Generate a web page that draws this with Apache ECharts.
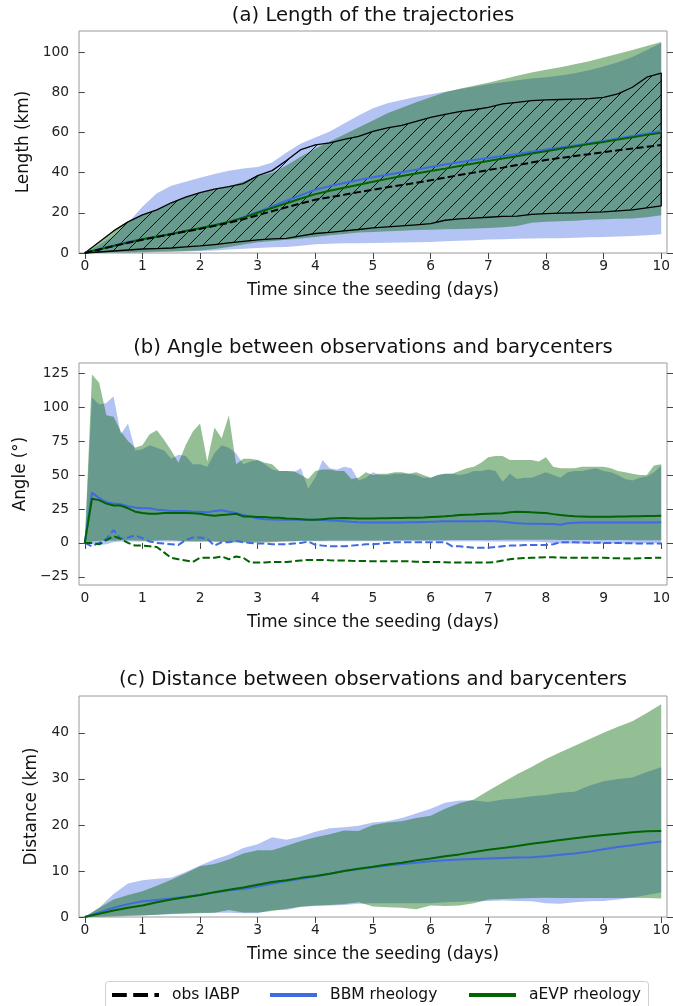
<!DOCTYPE html>
<html>
<head>
<meta charset="utf-8">
<script src="https://cdn.jsdelivr.net/npm/echarts@6/dist/echarts.min.js"></script>
<style>
  html, body { margin: 0; padding: 0; background: #fff; }
  #chart { width: 673px; height: 1006px; }
</style>
</head>
<body>
<div id="chart"></div>
<script>
// ---- time axes (days since seeding) ----
const dayA = [0,0.25,0.5,0.75,1,1.25,1.5,1.75,2,2.25,2.5,2.75,3,3.25,3.5,3.75,4,4.25,4.5,4.75,5,
              5.25,5.5,5.75,6,6.25,6.5,6.75,7,7.25,7.5,7.75,8,8.25,8.5,8.75,9,9.25,9.5,9.75,10];
const dayB = [0,0.125,0.25,0.375,0.5,0.625,0.75,0.875, 1,1.125,1.25,1.375,1.5,1.625,1.75,1.875,
              2,2.125,2.25,2.375,2.5,2.625,2.75,2.875, 3,3.125,3.25,3.375,3.5,3.625,3.75,3.875,
              4,4.125,4.25,4.375,4.5,4.625,4.75,4.875, 5,5.125,5.25,5.375,5.5,5.625,5.75,5.875,
              6,6.125,6.25,6.375,6.5,6.625,6.75,6.875, 7,7.125,7.25,7.375,7.5,7.625,7.75,7.875,
              8,8.125,8.25,8.375,8.5,8.625,8.75,8.875, 9,9.125,9.25,9.375,9.5,9.625,9.75,9.875, 10];

// ---- tick labels ----
const xTicks  = [0,1,2,3,4,5,6,7,8,9,10];
const yTicksA = [0,20,40,60,80,100];
const yTicksB = [-25,0,25,50,75,100,125];
const yTicksC = [0,10,20,30,40];

// ---- (a) length of the trajectories (km) ----
const obsMeanA  = [0,1.7,3.5,5.1,6.6,8,9.3,10.7,12,13.5,15,16.8,18.8,20.8,22.8,24.7,26.5,27.8,29,30.3,31.5,
                   32.7,33.8,35,36.2,37.5,38.8,40,41.3,42.5,43.8,45,46.3,47.3,48.3,49.2,50.2,51.1,52,52.9,53.7];
const obsLoA    = [0,0.5,1,1.5,2,2.2,2.5,3,3.5,4.2,5,5.8,6.5,7,7.3,8.5,9.7,10.3,11,11.7,12.5,
                   13,13.5,14,14.6,16.3,17,17.4,17.8,18.2,18.4,19.2,19.6,19.8,20,20.2,20.5,21,21.5,22.5,23.5];
const obsHiA    = [0,5.5,11,15.5,19,21.5,25,27.8,30,31.8,33,34.5,38.5,41,46,51.5,53.8,54.8,56.5,58,60.5,
                   62.3,63.5,65.5,67.5,69,70.4,71.3,72.5,74.2,75,75.8,76.2,76.4,76.6,76.8,77.5,79.2,82.5,87.5,89.5];
const bbmMeanA  = [0,2,3.8,5.5,7,8.2,9.5,10.9,12.3,13.8,15.5,17.8,20.5,23.2,26,28.8,31.5,33.3,34.8,36.3,37.7,
                   39,40.2,41.5,42.8,44,45.2,46.3,47.3,48.3,49.3,50.4,51.5,52.5,53.5,54.6,55.8,57,58.2,59.4,60.7];
const bbmLoA    = [0,0.1,0.2,0.3,0.4,0.5,0.6,0.8,1,1.3,1.7,2.1,2.5,2.8,3,3.6,4.3,4.6,4.8,4.9,5,
                   5.1,5.2,5.3,5.5,5.8,6.1,6.4,6.7,6.9,7.1,7.2,7.3,7.4,7.6,7.8,8,8.2,8.5,8.8,9.3];
const bbmHiA    = [0,4,8.5,15,23,29.8,33.5,35.5,37.5,39.3,41,42,42.8,45,50,54.5,57.5,60.5,64.5,68.5,72,
                   74.5,76.2,77.8,79,80.3,81.5,82.8,84,85,86,86.8,87.5,88.3,89.5,91,92.8,95,97.5,101,104.5];
const aevpMeanA = [0,1.8,3.5,5.2,6.8,8.1,9.5,10.9,12.3,13.8,15.5,17.6,20,22.4,24.8,27.1,29.3,31,32.5,34,35.5,
                   36.9,38.3,39.6,40.8,42,43.3,44.5,45.8,47,48.2,49.5,50.7,51.9,53,54.2,55.3,56.5,57.6,58.8,59.9];
const aevpLoA   = [0,0.1,0.2,0.3,0.4,0.6,0.8,1,1.3,2,3,4.2,5.3,6,6.6,7.2,8,8.8,9.5,10.2,10.5,
                   10.8,11.1,11.4,11.6,11.8,12,12.2,12.5,12.8,13.5,15,15.5,15.8,16,16.5,16.8,17,17.2,17.8,18.8];
const aevpHiA   = [0,5.5,11,15.5,19,21.5,25,27.8,30,31.8,33.2,35.5,38.3,40,43.5,48,52,55.5,59,62.5,66,
                   69.5,72.3,75,77.5,80,81.8,83.3,84.8,86.5,88.2,89.8,91.2,92.5,94,95.5,97.3,99.2,101,103,105];

// ---- (b) angle between observations and barycenters (deg) ----
const bbmHiB = [0,107,102,103,108,80,88,68, 69,72,70,68,62,65,64,58, 58,56,66,72,70,66,58,60,
                61,58,54,53,53,52,55,40, 48,61,55,54,56,55,46,48, 52,50,50,51,51,51,50,48,
                48,50,51,51,50,51,53,53, 54,53,45,51,47,48,48,50, 52,50,48,52,53,53,54,55,
                53,52,50,47,46,48,49,52, 57];
const bbmLoB = [0,-1,-1.5,-1,0.5,1,1,1, 1,1,1,1,1,1,1,1, 1,1,0.8,0.8,0.8,0.8,0.8,0.8,
                1,1,1,1.2,1.2,1.2,1.2,1.2, 1.2,1.2,1.2,1.2,1.2,1.2,1.2,1.2, 1.2,1.2,1.2,1.2,1.2,1.2,1.2,1.2,
                1.2,1.2,1.2,1.2,1.2,1.2,1.2,1.2, 1,1,1,1,1,1,1,0.8, 0.5,0,-0.5,-0.5,-0.5,-0.5,-0.5,-0.5,
                -0.5,-0.5,-0.5,-0.5,-0.5,-0.5,-0.3,-0.3, -0.3];
const bbmMeanB = [0,37,33,30,29,28.5,27,26, 25.5,25.5,24.5,24,23.5,23.5,23.5,23, 23,22.5,23.5,24,23,22,20.5,19.5,
                  18,17.5,17.2,17,17,17,17,17, 17,16.8,16.5,16.3,16,15.5,15.2,15, 15,15,15,15,15,15.2,15.3,15.4,
                  15.5,15.7,16,16,16,16,16,16, 16.2,16,15.5,15,14.5,14.3,14.2,14.1, 14,14,13.3,14.5,14.8,15,15,15,
                  15,15,15,15,15,15,15,15, 15.2];
const bbmDevB = [0,-2.5,0,3,9.5,3,4,5.5, 3.5,1,0,-0.5,-1,-1.5,2,4, 4,3,-2,0.5,0.5,1.5,0.5,0,
                 -0.5,-0.5,-1,-1,-1,-0.5,0,1, -1.5,-2,-2.5,-2.5,-2.5,-2,-1.5,-1, -1,-0.5,0,0.5,0.5,0.5,0.5,0.5,
                 0.5,0.5,0.5,-2.5,-2.5,-3,-3.5,-3.5, -3.5,-3,-2.5,-2,-2,-1.5,-1.5,-1.5, -1.5,-1,0.5,0.5,0.5,0.3,0.2,0.2,
                 0,0,0,-0.2,-0.3,-0.4,-0.5,-0.5, -0.5];
const aevpHiB = [0,124,118,94,93,82,75,70, 72,80,83,76,68,59,72,82, 88,60,85,77,94,58,62,62,
                 61,59,58,53,53,53,50,47, 53,54,54,53,53,47,48,52, 50,51,51,52,52,51,52,50,
                 48,50,51,51,53,55,56,59, 63,64,64,61,61,61,61,60, 63,56,55,55,55,56,56,56,
                 56,55,53,52,51,50,50,57, 58];
const aevpLoB = [0,1,1.5,1.5,1.5,2,2,1.8, 1.5,1.5,1.8,2,2,1.5,1.2,1, 1,1.2,1,0.8,0.5,0.3,0.3,0.2,
                 0.2,0.3,0.5,0.8,1,1.2,1.5,1.5, 1.5,1.6,1.7,1.8,1.8,1.8,1.8,1.7, 1.7,1.7,1.8,1.8,1.9,1.9,2,2,
                 2,2,2,2.1,2.1,2.2,2.2,2.2, 2.2,2.2,2.3,2.3,2.3,2.3,2.3,2.3, 2.3,2.3,2.2,2.2,2.2,2.2,2.1,2.1,
                 2.1,2.1,2.1,2.1,2,2,2,2, 2];
const aevpMeanB = [0,32.5,31.5,29,27.5,27.5,25.5,23, 22,21.5,21.5,22,22,22,22,21.8, 21.5,20.5,20,20.5,21,21.5,19.5,19.5,
                   19,19,18.5,18.5,18,17.8,17.5,17, 17,17.5,18,18.2,18.3,18.2,18,18, 18,18.1,18.2,18.3,18.4,18.5,18.6,18.7,
                   19,19.3,19.6,20,20.5,20.8,21,21.3, 21.5,21.7,21.8,22.5,23,22.8,22.5,22.3, 22,21.2,20.5,20,19.7,19.5,19.3,19.2,
                   19.2,19.3,19.4,19.5,19.6,19.7,19.8,19.9, 20];
const aevpDevB = [0,0,-1,2,5,3,0,-2, -2,-2.5,-3,-7,-11,-12,-13,-14, -11,-11,-11,-10,-12,-10,-11,-14.5,
                  -14.5,-14.5,-14,-14,-14,-13.5,-13,-12.5, -12.5,-12.5,-12.8,-13,-13,-13.2,-13.3,-13.4,
                  -13.5,-13.5,-13.5,-13.5,-13.5,-13.6,-13.8,-14, -14,-14,-14.2,-14.4,-14.5,-14.5,-14.5,-14.5,
                  -14.5,-14,-13,-12,-11.5,-11.2,-11,-10.8, -10.5,-10.6,-10.8,-11,-11,-11,-11,-11,
                  -11,-11.2,-11.3,-11.5,-11.5,-11.3,-11.1,-11, -11];

// ---- (c) distance between observations and barycenters (km) ----
const bbmMeanC  = [0,1,2,2.8,3.4,3.7,4,4.4,4.8,5.3,5.8,6.1,6.6,7.2,7.8,8.3,8.8,9.4,10,10.4,10.8,
                   11.2,11.5,11.8,12.1,12.3,12.5,12.6,12.7,12.8,12.9,13,13.2,13.5,13.8,14.2,14.7,15.2,15.6,16,16.4];
const bbmLoC    = [0,0.1,0.2,0.3,0.4,0.5,0.6,0.7,0.9,0.9,0.9,0.8,0.8,1.5,1.5,2.2,2.4,2.5,2.6,2.9,3,
                   3,3,3,3,3.2,3.3,3.4,3.5,3.6,3.5,3.4,3,2.9,3.2,3.4,3.5,3.8,4.2,4.8,5.3];
const bbmHiC    = [0,2,5,7.3,8,8.3,8.5,9.8,11.2,12.5,13.5,15,15.8,17.3,16.8,17.5,18.5,19.3,19.5,19.8,20.5,
                   20.8,21.5,22.5,23.5,24.8,25.3,25.3,25,25.5,25.8,26.2,26.5,27,27.2,28.5,29.5,30,30.3,31.5,32.5];
const aevpMeanC = [0,0.7,1.4,2,2.5,3.2,3.8,4.3,4.8,5.4,5.9,6.4,7,7.6,8,8.5,8.9,9.4,10,10.5,10.9,
                   11.4,11.8,12.3,12.7,13.2,13.6,14.1,14.6,15,15.4,15.9,16.3,16.7,17.1,17.5,17.8,18.1,18.4,18.6,18.7];
const aevpLoC   = [0,0.05,0.1,0.2,0.3,0.5,0.7,0.8,0.8,0.9,1.5,1,1,1.3,1.8,2.2,2.5,2.6,2.8,3.2,2.3,
                   2.1,2,1.7,2.5,2.4,2.5,3,3.8,3.9,4,4.1,4.2,4.1,4.1,4.1,4.1,4.1,4.2,4.1,4];
const aevpHiC   = [0,2,3.8,4.8,5.6,6.8,8.1,9.5,11,11.5,12.5,13.8,14.5,14.5,15.5,16.5,17.3,18,18.8,18.7,20,
                   20.5,20.8,21.5,22,23.5,24.7,25.5,27.4,29.2,31,32.6,34.3,35.8,37.2,38.6,40,41.3,42.5,44.3,46.2];

// ---- styling ----
const FONT = 'DejaVu Sans';
const BLUE = '#4169e1', GREEN = '#006400';
const BLUE_FILL = 'rgba(65,105,225,0.4)', GREEN_FILL = 'rgba(0,100,0,0.42)';
const DASH = [7.4, 3.2];
const TICK_FS = 13.8, LABEL_FS = 16.8, TITLE_FS = 19.6, LEGEND_FS = 15.5;

function hatchPattern() {
  const s = 14;
  const c = document.createElement('canvas');
  c.width = s; c.height = s;
  const g = c.getContext('2d');
  g.strokeStyle = '#000';
  g.lineWidth = 0.9;
  g.beginPath();
  [-s, 0, s].forEach(k => { g.moveTo(k, s); g.lineTo(k + s, 0); });
  g.stroke();
  return c;
}
const HATCH = { image: hatchPattern(), repeat: 'repeat' };

const pairs = (xs, ys) => xs.map((x, i) => [x, ys[i]]);
const fmtTick = v => (v < 0 ? '\u2212' + Math.abs(v) : String(v));

// filled envelope between a lower and an upper curve
function band(idx, xs, lo, hi, style, z) {
  return {
    type: 'custom', xAxisIndex: idx, yAxisIndex: idx * 2, z: z, silent: true,
    data: [[xs[0], lo[0]]],
    renderItem: (params, api) => {
      const pts = [];
      for (let i = 0; i < xs.length; i++) pts.push(api.coord([xs[i], hi[i]]));
      for (let i = xs.length - 1; i >= 0; i--) pts.push(api.coord([xs[i], lo[i]]));
      return { type: 'polygon', shape: { points: pts }, style: style };
    }
  };
}
function line(idx, xs, ys, color, dashed) {
  return {
    type: 'line', xAxisIndex: idx, yAxisIndex: idx * 2, z: 5, silent: true,
    data: pairs(xs, ys), showSymbol: false, symbol: 'none',
    lineStyle: { color: color, width: 2, type: dashed ? DASH : 'solid' }
  };
}

const grids = [
  { left: 79, top: 31, width: 588, height: 222 },
  { left: 79, top: 363, width: 588, height: 222 },
  { left: 79, top: 696, width: 588, height: 221 }
].map(g => Object.assign(g, { show: true, borderColor: '#9a9a9a', borderWidth: 1, backgroundColor: 'transparent' }));

const tickStyle = { show: true, length: 6, lineStyle: { color: '#444', width: 1 } };

const xAxes = [0, 1, 2].map(i => ({
  type: 'value', gridIndex: i, min: -0.1, max: 10.1,
  axisLine: { show: false }, splitLine: { show: false },
  axisTick: Object.assign({ customValues: xTicks }, tickStyle),
  axisLabel: { customValues: xTicks, fontFamily: FONT, fontSize: TICK_FS, color: '#222', margin: 6 },
  name: 'Time since the seeding (days)', nameLocation: 'middle', nameGap: 29,
  nameTextStyle: { fontFamily: FONT, fontSize: LABEL_FS, color: '#111' }
}));

const yCfg = [
  { min: 0, max: 110.5, ticks: yTicksA, name: 'Length (km)', gap: 47 },
  { min: -31, max: 132.5, ticks: yTicksB, name: 'Angle (\u00b0)', gap: 50 },
  { min: 0, max: 48, ticks: yTicksC, name: 'Distance (km)', gap: 38 }
];
const yAxes = [];
yCfg.forEach((c, i) => {
  yAxes.push({
    type: 'value', gridIndex: i, position: 'left', min: c.min, max: c.max,
    axisLine: { show: false }, splitLine: { show: false },
    axisTick: Object.assign({ customValues: c.ticks }, tickStyle),
    axisLabel: { customValues: c.ticks, formatter: fmtTick, fontFamily: FONT, fontSize: TICK_FS, color: '#222', margin: 10 },
    name: c.name, nameLocation: 'middle', nameGap: c.gap, nameRotate: 90,
    nameTextStyle: { fontFamily: FONT, fontSize: LABEL_FS, color: '#111' }
  });
  yAxes.push({
    type: 'value', gridIndex: i, position: 'right', min: c.min, max: c.max,
    axisLine: { show: false }, splitLine: { show: false },
    axisTick: Object.assign({ customValues: c.ticks }, tickStyle),
    axisLabel: { show: false }
  });
});

const series = [
  // (a)
  band(0, dayA, bbmLoA, bbmHiA, { fill: BLUE_FILL }, 1),
  band(0, dayA, aevpLoA, aevpHiA, { fill: GREEN_FILL }, 2),
  band(0, dayA, obsLoA, obsHiA, { fill: HATCH, stroke: '#000', lineWidth: 1.3, lineJoin: 'round' }, 3),
  line(0, dayA, bbmMeanA, BLUE, false),
  line(0, dayA, aevpMeanA, GREEN, false),
  line(0, dayA, obsMeanA, '#000', true),
  // (b)
  band(1, dayB, bbmLoB, bbmHiB, { fill: BLUE_FILL }, 1),
  band(1, dayB, aevpLoB, aevpHiB, { fill: GREEN_FILL }, 2),
  line(1, dayB, bbmMeanB, BLUE, false),
  line(1, dayB, aevpMeanB, GREEN, false),
  line(1, dayB, bbmDevB, BLUE, true),
  line(1, dayB, aevpDevB, GREEN, true),
  // (c)
  band(2, dayA, bbmLoC, bbmHiC, { fill: BLUE_FILL }, 1),
  band(2, dayA, aevpLoC, aevpHiC, { fill: GREEN_FILL }, 2),
  line(2, dayA, bbmMeanC, BLUE, false),
  line(2, dayA, aevpMeanC, GREEN, false)
];

const titles = [
  { text: '(a) Length of the trajectories', y: 16 },
  { text: '(b) Angle between observations and barycenters', y: 348 },
  { text: '(c) Distance between observations and barycenters', y: 680 }
];
const legendItems = [
  { label: 'obs IABP', color: '#000', dash: [14.8, 6.4], x: 112 },
  { label: 'BBM rheology', color: BLUE, dash: null, x: 270 },
  { label: 'aEVP rheology', color: GREEN, dash: null, x: 469 }
];

const graphic = [];
titles.forEach(t => graphic.push({
  type: 'text', x: 373, y: t.y, silent: true,
  style: { text: t.text, fontFamily: FONT, fontSize: TITLE_FS, fill: '#111', textAlign: 'center', textVerticalAlign: 'middle' }
}));
graphic.push({
  type: 'rect', silent: true, shape: { x: 105.5, y: 981.5, width: 543, height: 40, r: 3 },
  style: { fill: 'rgba(255,255,255,0.8)', stroke: '#d0d0d0', lineWidth: 1 }
});
legendItems.forEach(it => {
  graphic.push({
    type: 'line', silent: true, shape: { x1: it.x, y1: 995, x2: it.x + 47, y2: 995 },
    style: { stroke: it.color, lineWidth: 4, lineDash: it.dash || null, lineCap: 'butt' }
  });
  graphic.push({
    type: 'text', silent: true, x: it.x + 60, y: 995,
    style: { text: it.label, fontFamily: FONT, fontSize: LEGEND_FS, fill: '#111', textVerticalAlign: 'middle' }
  });
});

const chart = echarts.init(document.getElementById('chart'), null, { renderer: 'canvas' });
chart.setOption({
  animation: false,
  backgroundColor: '#fff',
  grid: grids,
  xAxis: xAxes,
  yAxis: yAxes,
  series: series,
  graphic: graphic
});
</script>
</body>
</html>
